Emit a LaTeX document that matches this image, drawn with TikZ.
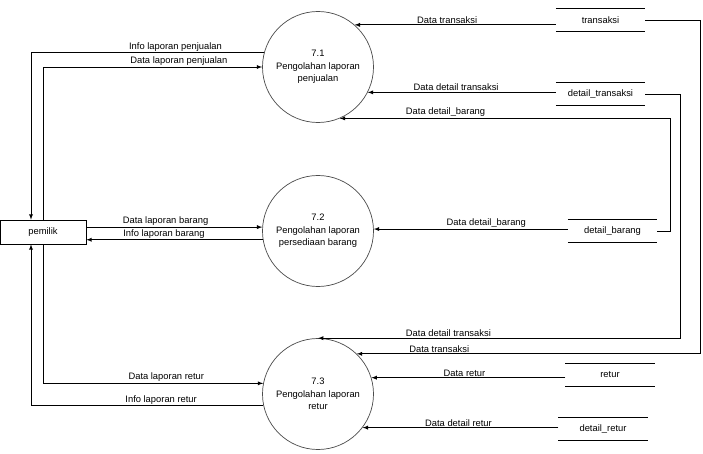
\documentclass[tikz,border=0pt]{standalone}
\usepackage{fontspec}
\setmainfont{Liberation Sans}
\begin{document}
\begin{tikzpicture}[x=0.03cm,y=-0.03cm,font=\fontsize{8}{10.5}\selectfont]
	\tikzset{>=latex}
	\tikzset{
		proses/.style={circle,draw=black!70,line width=0.6pt,minimum size=3.33cm,inner sep=0pt,align=center},
		entitas/.style={draw,line width=0.6pt,minimum width=2.58cm,minimum height=0.72cm,inner sep=0pt},
		simpanan/.style={minimum width=2.67cm,minimum height=0.66cm,inner sep=0pt},
		alir/.style={->,line width=0.6pt},
		ket/.style={above,inner sep=1pt}
	}
	\useasboundingbox (0,0) rectangle (703,454);

	% proses
	\node[proses] (p1) at (318,67) {7.1\\Pengolahan laporan\\penjualan};
	\node[proses] (p2) at (318,231) {7.2\\Pengolahan laporan\\persediaan barang};
	\node[proses] (p3) at (318,394) {7.3\\Pengolahan laporan\\retur};

	% entitas luar
	\node[entitas] (pm) at (43,232) {pemilik};

	% data store
	\node[simpanan] (t) at (600.5,20) {transaksi};
	\node[simpanan] (dt) at (600.5,94) {detail\_transaksi};
	\node[simpanan] (db) at (612.5,231) {detail\_barang};
	\node[simpanan] (r) at (610,375) {retur};
	\node[simpanan] (dr) at (603,429) {detail\_retur};
	\foreach \s in {t,dt,db,r,dr}
		\draw[line width=0.6pt] (\s.north west)--(\s.north east) (\s.south west)--(\s.south east);

	% pemilik <-> proses
	\draw[alir] (p1.165) -| node[ket,pos=0.19]{Info laporan penjualan} ([xshift=-0.36cm]pm.north);
	\draw[alir] (pm.north) |- node[ket,pos=0.81]{Data laporan penjualan} (p1.west);
	\draw[alir] (pm.east |- p2.176) -- node[ket,pos=0.45]{Data laporan barang} (p2.176);
	\draw[alir] (p2.189) -- node[ket,pos=0.56]{Info laporan barang} (pm.east |- p2.189);
	\draw[alir] (pm.south) |- node[ket,pos=0.78]{Data laporan retur} (p3.169);
	\draw[alir] (p3.192) -| node[ket,pos=0.22]{Info laporan retur} ([xshift=-0.36cm]pm.south);

	% data store -> proses
	\draw[alir] (t.west |- p1.49) -- node[ket,pos=0.54]{Data transaksi} (p1.49);
	\draw[alir] (dt.west |- p1.-27) -- node[ket,pos=0.53]{Data detail transaksi} (p1.-27);
	\draw[alir] (db.east) -- ++(13,0) |- node[ket,pos=0.84]{Data detail\_barang} (p1.-67);
	\draw[alir] (db.west |- p2.2) -- node[ket,pos=0.42]{Data detail\_barang} (p2.2);
	\draw[alir] (dt.east) -- ++(35,0) |- node[ket,pos=0.82]{Data detail transaksi} (p3.north);
	\draw[alir] (t.east) -- ++(55,0) |- node[ket,pos=0.88]{Data transaksi} (p3.46);
	\draw[alir] (r.west |- p3.17) -- node[ket,pos=0.52]{Data retur} (p3.17);
	\draw[alir] (dr.west |- p3.-37) -- node[ket,pos=0.51]{Data detail retur} (p3.-37);
\end{tikzpicture}
\end{document}
